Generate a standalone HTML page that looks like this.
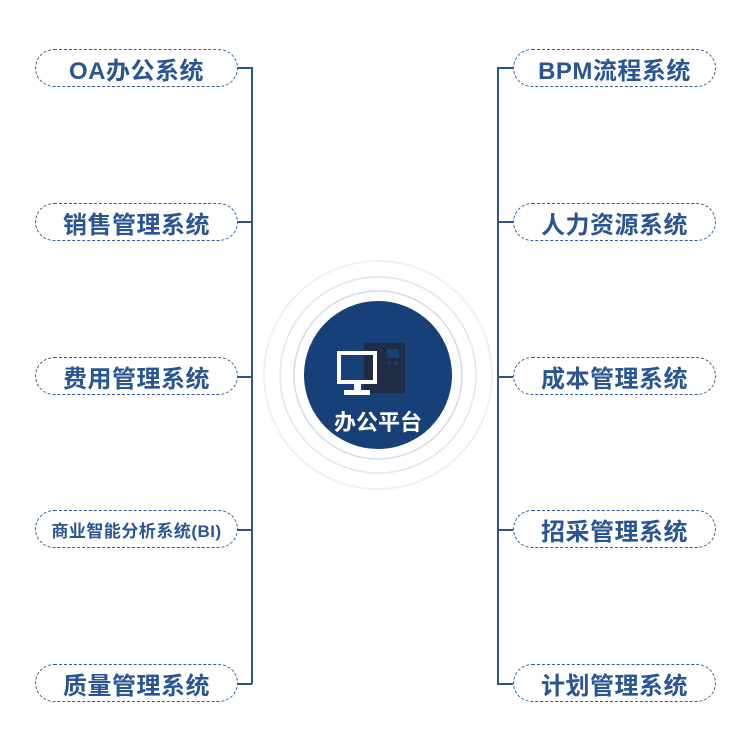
<!DOCTYPE html>
<html><head><meta charset="utf-8"><style>
body{margin:0;background:#fff;width:750px;height:751px;overflow:hidden;position:relative;font-family:"Liberation Sans","Noto Sans CJK SC",sans-serif}
.b{position:absolute;height:38px;border:1.4px dashed #2f5a98;border-radius:19px;box-sizing:border-box;display:flex;align-items:center;justify-content:center;color:#2a5594;font-weight:bold;font-size:24px;letter-spacing:0.5px}
.l{left:35px;width:203px}.r{left:513px;width:203px}
.ln{position:absolute;background:#2a5594}
</style></head><body>
<div class="ln" style="left:251px;top:67px;width:2px;height:617px"></div>
<div class="ln" style="left:497px;top:67px;width:2px;height:617px"></div>
<div class="ln" style="left:237px;top:67px;width:15px;height:2px"></div>
<div class="ln" style="left:237px;top:221px;width:15px;height:2px"></div>
<div class="ln" style="left:237px;top:376px;width:15px;height:2px"></div>
<div class="ln" style="left:237px;top:529px;width:15px;height:2px"></div>
<div class="ln" style="left:237px;top:683px;width:15px;height:2px"></div>
<div class="ln" style="left:497px;top:67px;width:16px;height:2px"></div>
<div class="ln" style="left:497px;top:221px;width:16px;height:2px"></div>
<div class="ln" style="left:497px;top:376px;width:16px;height:2px"></div>
<div class="ln" style="left:497px;top:529px;width:16px;height:2px"></div>
<div class="ln" style="left:497px;top:683px;width:16px;height:2px"></div>

<div class="b l" style="top:49px">OA办公系统</div>
<div class="b l" style="top:203px">销售管理系统</div>
<div class="b l" style="top:357px">费用管理系统</div>
<div class="b l" style="top:510px;font-size:17px">商业智能分析系统(BI)</div>
<div class="b l" style="top:664px">质量管理系统</div>
<div class="b r" style="top:49px">BPM流程系统</div>
<div class="b r" style="top:203px">人力资源系统</div>
<div class="b r" style="top:357px">成本管理系统</div>
<div class="b r" style="top:510px">招采管理系统</div>
<div class="b r" style="top:664px">计划管理系统</div>

<svg style="position:absolute;left:0;top:0" width="750" height="751">
<circle cx="378" cy="375" r="114" fill="none" stroke="#eef0f4" stroke-width="2"/>
<circle cx="378" cy="375" r="98" fill="none" stroke="#e2e6ee" stroke-width="1.5"/>
<circle cx="378" cy="375" r="84" fill="none" stroke="#d4dbe8" stroke-width="1.5"/>
<circle cx="378" cy="375" r="74" fill="#173f78"/>
<rect x="364" y="343" width="41" height="50" fill="#1f2c45"/>
<rect x="387" y="349" width="12" height="9" fill="#173f78"/>
<circle cx="389" cy="363" r="1.6" fill="#173f78"/><circle cx="396" cy="363" r="1.6" fill="#173f78"/>
<rect x="339" y="353" width="36" height="29" fill="none" stroke="#fff" stroke-width="4"/>
<rect x="354" y="383" width="7" height="8" fill="#fff"/>
<rect x="344" y="390" width="26" height="5" fill="#fff"/>
<text x="378" y="430" text-anchor="middle" fill="#fff" font-size="22" font-weight="bold" font-family="Liberation Sans,Noto Sans CJK SC,sans-serif">办公平台</text>
</svg>
</body></html>
